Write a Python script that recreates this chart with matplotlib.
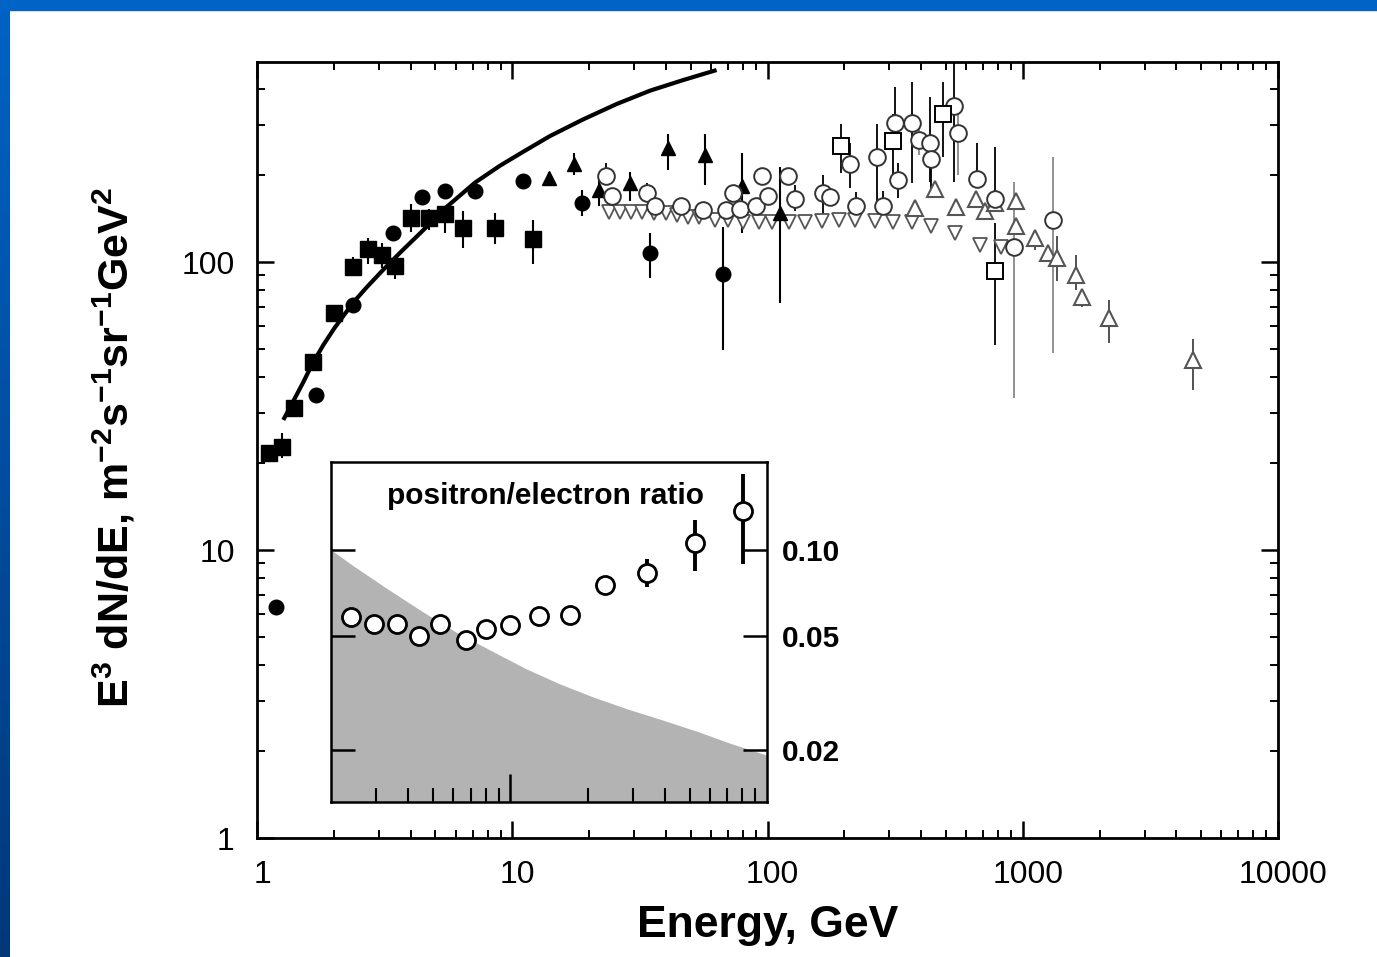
import numpy as np
import matplotlib
matplotlib.use('Agg')
import matplotlib.pyplot as plt
from matplotlib.patches import Rectangle
from matplotlib.colors import LinearSegmentedColormap
from matplotlib.ticker import FixedLocator, NullFormatter, NullLocator, LogLocator
from matplotlib.transforms import ScaledTranslation

plt.rcParams['font.family'] = ['Liberation Sans', 'DejaVu Sans']
plt.rcParams['mathtext.fontset'] = 'custom'
plt.rcParams['mathtext.rm'] = 'Liberation Sans:bold'
plt.rcParams['mathtext.bf'] = 'Liberation Sans:bold'

# filled squares
sq_e = [1.11, 1.25, 1.40, 1.65, 2.01, 2.38, 2.73, 3.09, 3.47, 4.0, 4.73, 5.45, 6.43, 8.55, 12.1]
sq_f = [21.7, 22.8, 31.2, 44.9, 66.7, 96.4, 110.7, 105.7, 96.8, 141.9, 141.9, 146.3, 130.9, 130.9, 120]
sq_lo = [20.5, 20.8, 29.5, 42.5, 63.5, 89.3, 98.5, 95, 87, 127, 129, 126, 112, 115.6, 98.2]
sq_hi = [23.0, 25.5, 33.0, 47.5, 70, 104.5, 121, 116, 100, 158.7, 153, 156, 150, 147.7, 140]

# filled circles
fc_e = [1.19, 1.70, 2.38, 3.40, 4.42, 5.45, 7.14, 11.0, 18.8, 34.7, 66.8]
fc_f = [6.34, 34.5, 70.9, 125.8, 168.6, 176.3, 176.3, 191, 160.7, 107.2, 90.8]
fc_lo = [6.34, 34.5, 70.9, 125.8, 168.6, 176.3, 176.3, 182, 145, 88, 49.6]
fc_hi = [6.34, 34.5, 70.9, 125.8, 168.6, 176.3, 176.3, 200, 178, 126, 132.6]

# filled triangles
ft_e = [13.9, 17.5, 21.8, 28.9, 40.7, 57.1, 79.8, 111.8]
ft_f = [196, 219.7, 177.8, 187.6, 248, 235, 183.6, 147.5]
ft_lo = [186, 200, 157, 163, 208, 185, 126, 71.9]
ft_hi = [206, 240, 195, 206, 278, 278, 240, 214]

# open circles
oc_e = [23.2, 24.6, 33.8, 36.2, 45.8, 55.8, 68.6, 73.3, 78.3, 90.0, 94.9, 100.6, 120.8, 128.3,
        165, 176.5, 211, 223, 267.7, 283, 317, 326, 369, 391, 433, 438, 540, 556, 662, 776, 922, 1310]
oc_f = [199, 169.5, 174, 156.4, 156.4, 151.6, 151.6, 173, 152.5, 156.4, 199, 169.5, 199, 164.9,
        174, 168.6, 219.7, 156.4, 232, 156.4, 304, 192.7, 304, 265, 258, 227.6, 348, 280, 193.8, 164.9, 113, 139.9]
oc_lo = [185, 169.5, 165, 156.4, 156.4, 151.6, 151.6, 173, 152.5, 156.4, 190, 169.5, 190, 150,
         147, 168.6, 181, 156.4, 156, 156.4, 260, 166.6, 188, 235, 190, 180, 190, 200, 182.6, 164.9, 33.6, 48.3]
oc_hi = [221, 169.5, 188, 156.4, 156.4, 151.6, 151.6, 185, 152.5, 156.4, 208, 169.5, 208, 185,
         200, 168.6, 258, 175, 302, 176, 406, 220, 422, 300, 375, 250, 600, 330, 258, 251, 190, 232]
oc_grey = [False] * 23 + [True, False, False, False, True, False, False, True, True]

# open squares
os_e = [194, 309, 488, 779]
os_f = [253, 264, 326, 93.1]
os_lo = [203, 200, 232, 51.4]
os_hi = [302, 326, 422, 136.2]

# open upward triangles
ut_e = [378, 453, 547, 655, 710, 779, 945, 945, 1119, 1256, 1367, 1612, 1700, 2178, 4637]
ut_f = [153.5, 178.6, 155.6, 165, 150.6, 160, 163, 133.3, 120.8, 107.2, 103, 90.1, 75.4, 63.7, 45.7]
ut_lo = [153.5, 178.6, 150, 165, 140, 160, 163, 133.3, 110, 107.2, 86, 80, 70, 52.2, 36.0]
ut_hi = [153.5, 178.6, 160, 165, 150.6, 160, 163, 133.3, 129, 107.2, 123.6, 106, 75.4, 73.7, 53.9]

# open downward triangles
dt_e = [23.9, 26.4, 29.3, 32.3, 35.9, 40.0, 44.3, 48.9, 53.9, 62.3, 70.2, 80.3, 93.0, 104, 121,
        140, 163, 190, 221, 263, 311, 368, 438, 544, 681, 819]
dt_f = [149.5, 149.5, 149.5, 149.5, 147.5, 147.5, 145.4, 143.6, 143.6, 139.6, 139.6, 137.8, 137.8,
        137.8, 137.8, 137.8, 138.5, 139.6, 139.6, 138.5, 138, 137.8, 133.5, 126, 114.6, 112.5]

# model curve
cv_e = [1.268, 1.388, 1.519, 1.652, 1.819, 2.009, 2.384, 2.689, 3.097, 3.632, 4.416, 5.45,
        7.14, 8.95, 11.05, 14.05, 18.97, 25.63, 34.63, 46.77, 63.17]
cv_f = [28.3, 32.9, 38.3, 44.5, 51.5, 58.9, 72.4, 81.7, 93.3, 107.7, 127.4, 153.6,
        188.6, 216.0, 241.6, 273.8, 312.9, 353.7, 393.5, 428.5, 464.2]

# inset: positron fraction
pf_e = [2.39, 2.94, 3.62, 4.42, 5.32, 6.71, 8.07, 9.96, 12.9, 17.1, 23.4, 34.1, 52.6, 80.5]
pf_v = [0.0583, 0.0551, 0.0551, 0.0500, 0.0549, 0.0482, 0.0527, 0.0546, 0.0587, 0.0591,
        0.0751, 0.0831, 0.106, 0.137]
pf_lo = [0.0583, 0.0551, 0.0551, 0.0500, 0.0549, 0.0482, 0.0527, 0.0546, 0.0587, 0.0591,
         0.0694, 0.0741, 0.0846, 0.0892]
pf_hi = [0.0583, 0.0551, 0.0551, 0.0500, 0.0549, 0.0482, 0.0527, 0.0546, 0.0587, 0.0591,
         0.0798, 0.0928, 0.1276, 0.185]

# inset: grey secondary-production band
sh_e = [2, 2.44, 3.32, 4.52, 6.15, 8.37, 11.4, 15.5, 21.1, 28.7, 39.0, 53.1, 72.2, 100]
sh_v = [0.100, 0.088, 0.073, 0.061, 0.0515, 0.0445, 0.0385, 0.034, 0.0305, 0.0277, 0.0254,
        0.0232, 0.021, 0.0191]

W, H = 1377, 957
fig = plt.figure(figsize=(W / 100, H / 100), dpi=100)
fig.patch.set_facecolor('white')

# slide frame
fig.patches.append(Rectangle((0, 1 - 10 / H), 1, 10 / H, transform=fig.transFigure,
                             color='#0063c6', zorder=0))
band = fig.add_axes([0, 0, 10 / W, 1 - 10 / H])
band.imshow(np.linspace(0, 1, 256)[:, None], aspect='auto',
            cmap=LinearSegmentedColormap.from_list('slide', ['#0062c4', '#00387a']))
band.axis('off')

ax = fig.add_axes([257 / W, 1 - 838 / H, (1278 - 257) / W, (838 - 62) / H])
ax.set_xscale('log')
ax.set_yscale('log')


def bars(a, e, lo, hi, color='black', lw=1.5):
    a.vlines(e, lo, hi, colors=color, linewidth=lw, zorder=2)


bars(ax, sq_e, sq_lo, sq_hi)
bars(ax, fc_e, fc_lo, fc_hi)
bars(ax, ft_e, ft_lo, ft_hi)
bars(ax, oc_e, oc_lo, oc_hi, color=['#888888' if g else 'black' for g in oc_grey], lw=1.3)
bars(ax, os_e, os_lo, os_hi, lw=1.3)
bars(ax, ut_e, ut_lo, ut_hi, color='#444444', lw=1.3)

ax.plot(cv_e, cv_f, color='black', linewidth=3, zorder=3, solid_capstyle='butt')
ax.plot(dt_e, dt_f, 'v', ms=10, mfc='white', mec='#555555', mew=1.3, ls='none', zorder=3)
ax.plot(ut_e, ut_f, '^', ms=12, mfc='white', mec='#555555', mew=1.5, ls='none', zorder=4)
ax.plot(oc_e, oc_f, 'o', ms=12, mfc='white', mec='#333333', mew=1.4, ls='none', zorder=5)
ax.plot(os_e, os_f, 's', ms=12, mfc='white', mec='black', mew=1.4, ls='none', zorder=5)
ax.plot(sq_e, sq_f, 's', ms=12, color='black', ls='none', zorder=4)
ax.plot(fc_e, fc_f, 'o', ms=10.5, color='black', ls='none', zorder=4)
ax.plot(ft_e, ft_f, '^', ms=9.5, color='black', ls='none', zorder=4)

ax.set_xlim(1, 1e4)
ax.set_ylim(1, 495)
ax.set_xticks([1, 10, 100, 1000, 10000])
ax.set_xticklabels(['1', '10', '100', '1000', '10000'])
ax.set_yticks([1, 10, 100])
ax.set_yticklabels(['1', '10', '100'])
ax.xaxis.set_minor_locator(LogLocator(base=10, subs=np.arange(2, 10)))
ax.yaxis.set_minor_locator(LogLocator(base=10, subs=np.arange(2, 10)))
ax.xaxis.set_minor_formatter(NullFormatter())
ax.yaxis.set_minor_formatter(NullFormatter())
ax.tick_params(which='both', direction='in', top=True, right=True, labelsize=23, pad=16)
ax.tick_params(which='major', length=12, width=1.8)
ax.tick_params(which='minor', length=6, width=1.4)
for s in ax.spines.values():
    s.set_linewidth(2)
shift = ScaledTranslation(5 / 100, 0, fig.dpi_scale_trans)
for lab in ax.get_xticklabels():
    lab.set_transform(lab.get_transform() + shift)

fig.text(768 / W, 1 - 925 / H, 'Energy, GeV', fontsize=32, fontweight='bold',
         ha='center', va='center')
fig.text(114 / W, 1 - 447 / H,
         r'E$^{3}$ dN/dE, m$^{-2}$s$^{-1}$sr$^{-1}$GeV$^{2}$',
         fontsize=31, fontweight='bold', rotation=90, ha='center', va='center')

# inset
ins = fig.add_axes([331 / W, 1 - 802 / H, (767 - 331) / W, (802 - 462) / H])
ins.set_xscale('log')
ins.set_yscale('log')
ins.set_xlim(2, 100)
ins.set_ylim(0.0131, 0.203)
ins.fill_between(sh_e, 0.001, sh_v, color='#b3b3b3', linewidth=0, zorder=1)
bars(ins, pf_e, pf_lo, pf_hi, lw=2.8)
ins.plot(pf_e, pf_v, 'o', ms=13, mfc='white', mec='black', mew=2, ls='none', zorder=4)
ins.text(0.128, 0.90, 'positron/electron ratio', transform=ins.transAxes, fontsize=21.5,
         fontweight='bold', ha='left', va='center')

ins.yaxis.set_major_locator(FixedLocator([0.02, 0.05, 0.10]))
ins.yaxis.set_minor_locator(NullLocator())
ins.set_yticklabels(['0.02', '0.05', '0.10'])
ins.xaxis.set_major_locator(FixedLocator([10]))
ins.xaxis.set_minor_locator(FixedLocator([3, 4, 5, 6, 7, 8, 9, 20, 30, 40, 50, 60, 70, 80, 90]))
ins.xaxis.set_major_formatter(NullFormatter())
ins.xaxis.set_minor_formatter(NullFormatter())
ins.tick_params(axis='y', which='major', direction='in', left=True, right=True,
                labelleft=False, labelright=True, length=17, width=1.8, labelsize=21.5, pad=11)
for lab in ins.get_yticklabels():
    lab.set_fontweight('bold')
ins.tick_params(axis='x', which='major', direction='in', length=20, width=1.8, top=False)
ins.tick_params(axis='x', which='minor', direction='in', length=10, width=1.5, top=False)
for s in ins.spines.values():
    s.set_linewidth(1.8)

fig.savefig('out.png', dpi=100)
